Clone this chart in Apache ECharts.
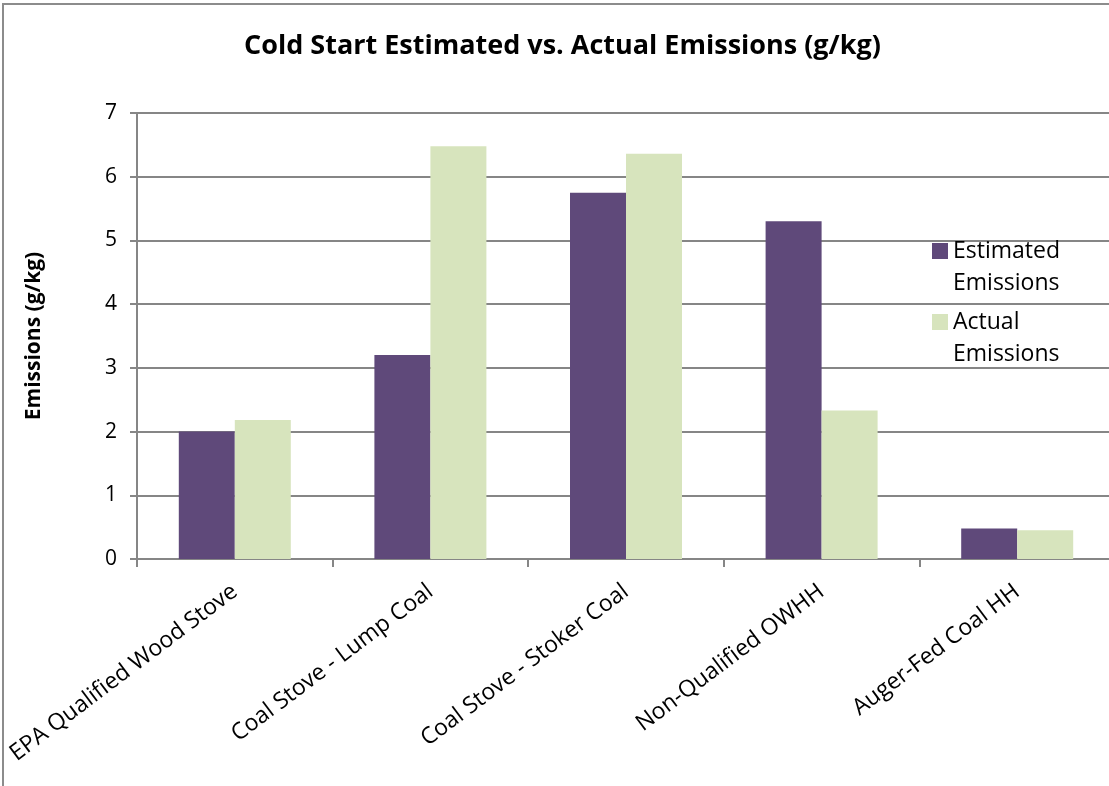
<!DOCTYPE html>
<html>
<head>
<meta charset="utf-8">
<script src="https://cdn.jsdelivr.net/npm/echarts@6/dist/echarts.min.js"></script>
<style>
  html, body { margin: 0; padding: 0; background: #fff; overflow: hidden; }
  /* plot runs past the right edge of the window, as in the original */
  #chart { width: 1125px; height: 786px; }
</style>
</head>
<body>
<div id="chart"></div>
<script>
const categories = [
  "EPA Qualified Wood Stove",
  "Coal Stove - Lump Coal",
  "Coal Stove - Stoker Coal",
  "Non-Qualified OWHH",
  "Auger-Fed Coal HH"
];
const estimated = [2.0, 3.2, 5.75, 5.3, 0.48];
const actual = [2.18, 6.48, 6.36, 2.33, 0.45];
const yTicks = [0, 1, 2, 3, 4, 5, 6, 7];

const fontFamily = "'Open Sans', 'Noto Sans', sans-serif";
const chart = echarts.init(document.getElementById("chart"));

chart.setOption({
  animation: false,
  title: {
    text: "Cold Start Estimated vs. Actual Emissions (g/kg)",
    left: "center",
    top: 28,
    textStyle: { fontFamily, fontSize: 27, fontWeight: "bold", color: "#000" }
  },
  graphic: [
    {
      type: "rect",
      shape: { x: 3, y: 4, width: 1200, height: 900 },
      style: { fill: "none", stroke: "#8c8c8c", lineWidth: 2 }
    }
  ],
  legend: {
    orient: "vertical",
    left: 932,
    top: 203,
    padding: 0,
    itemWidth: 16,
    itemHeight: 16,
    itemGap: -25,
    icon: "rect",
    // blank first line keeps the swatch level with the first text line
    formatter: (name) => " \n" + name.replace(" ", "\n"),
    textStyle: { fontFamily, fontSize: 23, lineHeight: 32, color: "#000" }
  },
  grid: { left: 137, right: 10, top: 113, bottom: 227 },
  xAxis: {
    type: "category",
    data: categories,
    axisLine: { lineStyle: { color: "#868686", width: 2 } },
    axisTick: { show: true, length: 8, lineStyle: { color: "#868686", width: 2 } },
    axisLabel: {
      interval: 0,
      rotate: 37,
      fontFamily,
      fontSize: 23,
      color: "#000",
      margin: 30
    }
  },
  yAxis: {
    type: "value",
    min: yTicks[0],
    max: yTicks[yTicks.length - 1],
    interval: 1,
    name: "Emissions (g/kg)",
    nameLocation: "middle",
    nameGap: 92,
    nameTextStyle: { fontFamily, fontSize: 21, fontWeight: "bold", color: "#000" },
    axisLine: { show: true, lineStyle: { color: "#868686", width: 2 } },
    axisTick: { show: true, length: 7, lineStyle: { color: "#868686", width: 2 } },
    axisLabel: { fontFamily, fontSize: 21, color: "#000", margin: 20 },
    splitLine: { lineStyle: { color: "#868686", width: 2 } }
  },
  series: [
    {
      name: "Estimated Emissions",
      type: "bar",
      data: estimated,
      barWidth: 56,
      barGap: "0%",
      itemStyle: { color: "#5f497a" }
    },
    {
      name: "Actual Emissions",
      type: "bar",
      data: actual,
      barWidth: 56,
      barGap: "0%",
      itemStyle: { color: "#d7e4bd" }
    }
  ]
});
</script>
</body>
</html>
